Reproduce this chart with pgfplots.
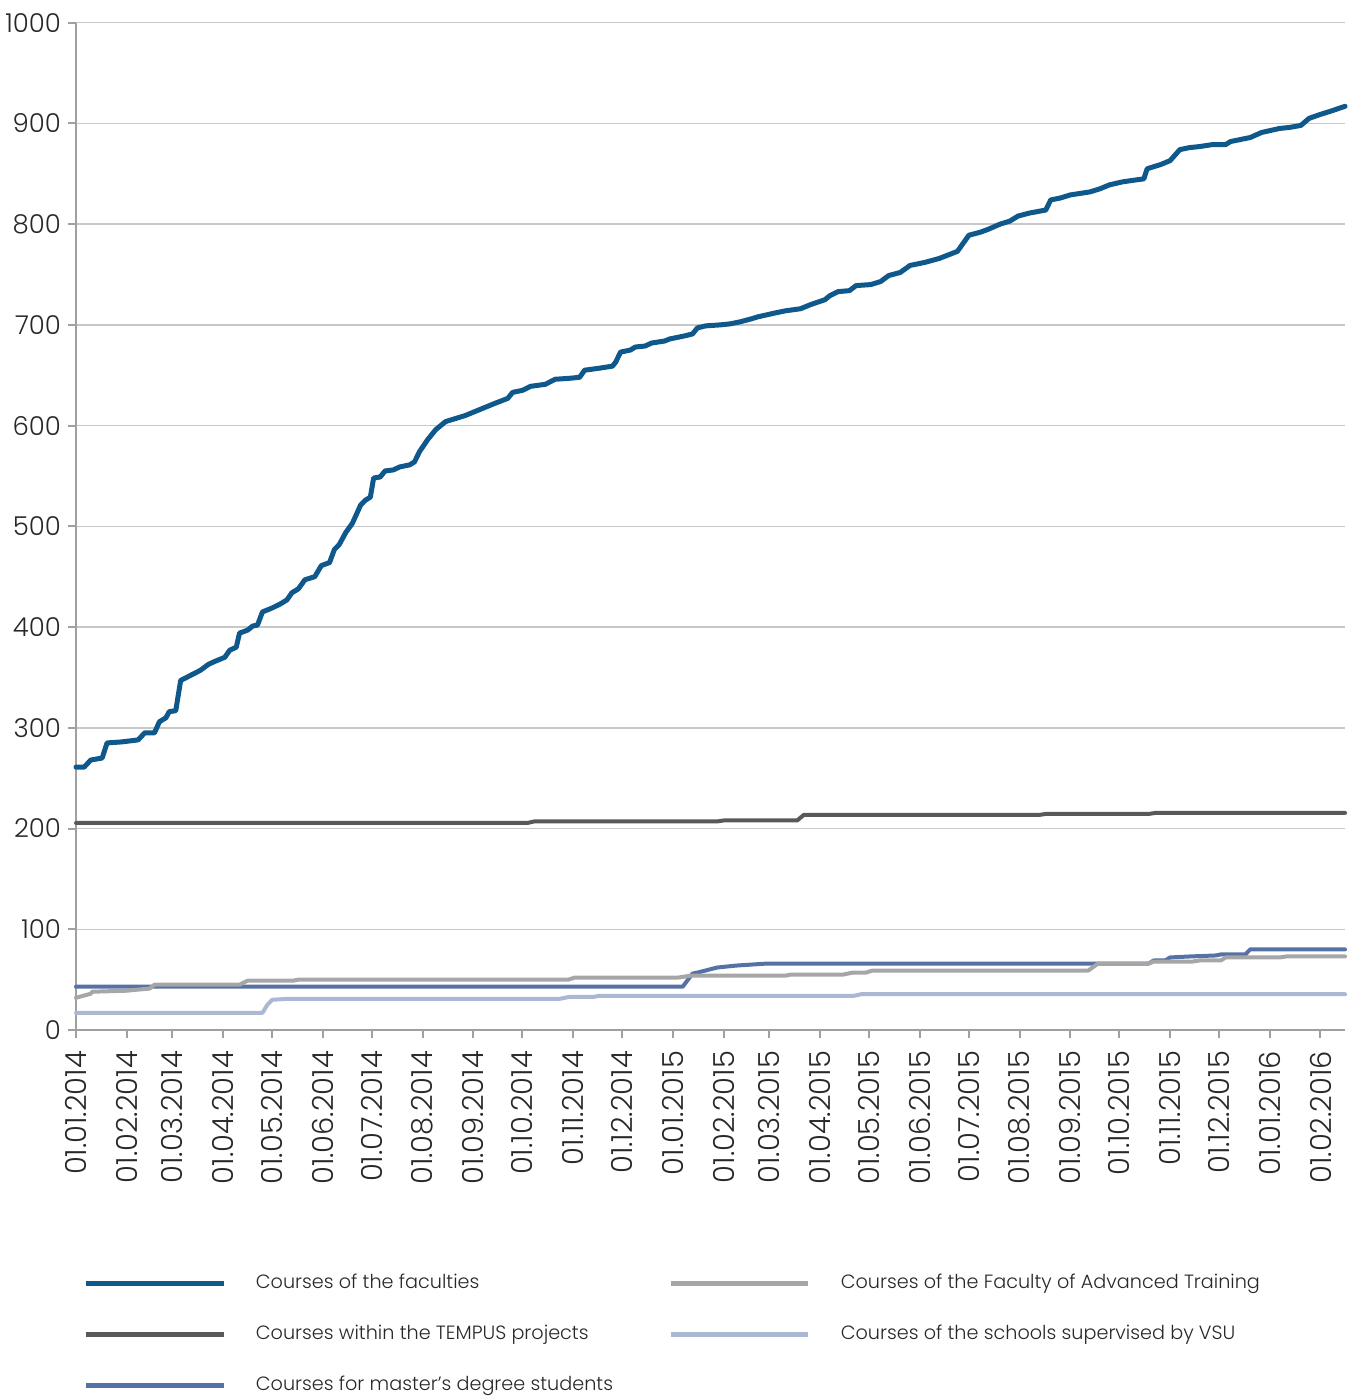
\documentclass[border=0pt]{standalone}
\usepackage{pgfplots}
\pgfplotsset{compat=1.18}
\usepackage{fontspec}
\setmainfont{Poppins}[UprightFont={* Light}]

\definecolor{facc}{RGB}{14,88,140}
\definecolor{tempc}{RGB}{89,89,89}
\definecolor{mastc}{RGB}{84,114,163}
\definecolor{advc}{RGB}{166,166,168}
\definecolor{schc}{RGB}{170,184,212}
\definecolor{axisgray}{RGB}{160,160,162}
\definecolor{gridgray}{RGB}{200,200,200}
\definecolor{textc}{RGB}{40,40,40}

% days counted from 01.01.2014
\pgfplotstableread{
day val
0 261
5 261
9 268
16 270
19 285
28 286
38 288
42 295
48 295
51 306
55 310
57 316
61 317
64 347
70 352
76 357
81 363
85 366
91 370
94 377
98 380
100 394
105 397
108 401
111 402
114 415
120 419
125 423
129 427
132 434
136 438
140 447
146 450
150 461
155 464
158 477
161 482
165 494
169 503
174 521
177 526
180 529
182 548
186 549
189 555
194 556
198 559
204 561
207 564
210 574
215 586
220 596
226 604
232 607
238 610
247 616
256 622
264 627
267 633
273 635
278 639
287 641
293 646
302 647
308 648
311 655
320 657
328 659
330 663
333 673
339 675
342 678
348 679
352 682
360 684
363 686
372 689
377 691
380 697
385 699
394 700
400 701
406 703
413 706
417 708
428 712
434 714
443 716
449 720
458 725
461 729
466 733
473 734
477 739
486 740
492 743
497 749
504 752
510 759
519 762
528 766
539 773
546 789
553 792
558 795
565 800
571 803
576 808
583 811
593 814
596 824
602 826
608 829
620 832
626 835
632 839
640 842
653 845
655 855
663 859
669 863
675 874
681 876
687 877
695 879
703 879
706 882
718 886
725 891
736 895
742 896
749 898
754 905
761 909
767 912
776 917
}\faculties

\pgfplotstableread{
day val
0 205.5
276 205.5
280 207
392 207
396 208
441 208
445 213.5
589 213.5
593 214.5
656 214.5
660 215.5
776 215.5
}\tempus

\pgfplotstableread{
day val
0 43
371 43
377 56
380 57
392 62
404 64
423 66
656 66
659 69
666 69
669 72
681 73
697 74
700 75
715 75
718 80
776 80
}\masters

\pgfplotstableread{
day val
0 32
9 36
10 38
31 39
44 41
45 41
48 45
100 45
105 49
133 49
136 50
301 50
305 52
368 52
376 54
434 54
437 55
469 55
475 57
483 57
487 59
619 59
625 66
656 66
659 68
683 68
687 69
700 69
703 72
736 72
740 73
776 73
}\advanced

\pgfplotstableread{
day val
0 17
114 17
117 25
120 30
130 31
296 31
302 33
317 33
320 34
476 34
480 35.5
776 35.5
}\schools

\begin{document}
\begin{tikzpicture}
\begin{axis}[
    name=ax,
    scale only axis,
    width=634.5pt, height=503.65pt,
    xmin=0, xmax=776, ymin=0, ymax=1000,
    clip=false,
    axis x line=bottom, axis y line=left,
    axis line style={-, draw=axisgray, line width=1pt},
    xtick={0,31,59,90,120,151,181,212,243,273,304,334,365,396,424,455,485,516,546,577,608,638,669,699,730,761},
    xticklabels={01.01.2014,01.02.2014,01.03.2014,01.04.2014,01.05.2014,01.06.2014,01.07.2014,01.08.2014,01.09.2014,01.10.2014,01.11.2014,01.12.2014,01.01.2015,01.02.2015,01.03.2015,01.04.2015,01.05.2015,01.06.2015,01.07.2015,01.08.2015,01.09.2015,01.10.2015,01.11.2015,01.12.2015,01.01.2016,01.02.2016},
    ytick={0,100,...,1000},
    ymajorgrids,
    grid style={gridgray, line width=0.75pt},
    tick align=outside,
    major tick length=4pt,
    tick style={axisgray, line width=1pt},
    xticklabel style={yshift=-3pt, rotate=90, anchor=east, font=\fontsize{14.5}{15}\selectfont, text=textc},
    yticklabel style={font=\fontsize{13}{14}\selectfont, text=textc},
    /pgf/number format/assume math mode=true,
    /pgf/number format/1000 sep={},
    legend columns=2,
    legend cell align=left,
    legend style={at={(0.0063,-0.2259)}, anchor=north west, draw=none, fill=none,
        inner sep=0pt, outer sep=0pt, column sep=0pt, row sep=0pt,
        nodes={inner sep=0pt, minimum height=25.5pt, font=\fontsize{9.6}{12}\selectfont, text=textc}},
    legend image code/.code={\draw[#1, line cap=butt, line width=2.5pt] (0pt,0pt) -- (68.5pt,0pt); \path (84.5pt,0pt);},
    every axis plot/.append style={line join=round, line cap=round},
]
\addplot[tempc, line width=2pt, forget plot] table {\tempus};
\addplot[mastc, line width=2pt, forget plot] table {\masters};
\addplot[advc, line width=2pt, forget plot] table {\advanced};
\addplot[schc, line width=2pt, forget plot] table {\schools};
\addplot[facc, line width=2.5pt, forget plot] table {\faculties};

\addlegendimage{facc}
\addlegendentry{\makebox[206.5pt][l]{Courses of the faculties}}
\addlegendimage{advc}
\addlegendentry{Courses of the Faculty of Advanced Training}
\addlegendimage{tempc}
\addlegendentry{\makebox[206.5pt][l]{Courses within the TEMPUS projects}}
\addlegendimage{schc}
\addlegendentry{Courses of the schools supervised by VSU}
\addlegendimage{mastc}
\addlegendentry{\makebox[206.5pt][l]{Courses for master’s degree students}}
\end{axis}
\pgfresetboundingbox
\path[use as bounding box] ([shift={(-38pt,-185pt)}]ax.south west) rectangle ([shift={(638.5pt,515pt)}]ax.south west);
\end{tikzpicture}
\end{document}
